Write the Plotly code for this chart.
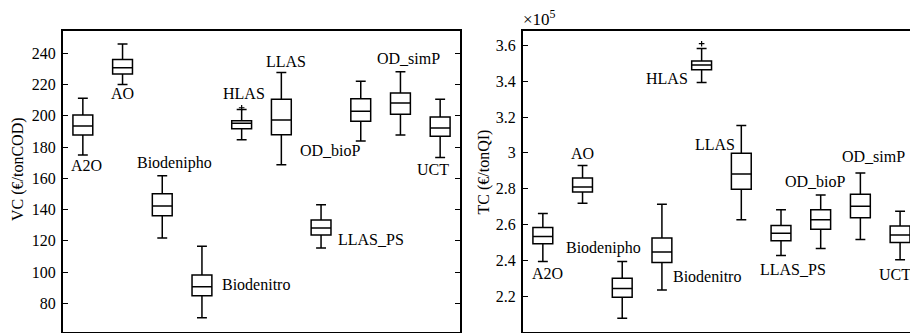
import plotly.graph_objects as go

processes = ["A2O", "AO", "Biodenipho", "Biodenitro", "HLAS", "LLAS",
             "LLAS_PS", "OD_bioP", "OD_simP", "UCT"]
positions = list(range(1, 11))

# Left panel: VC (EUR/tonCOD)
vc_low = [174.9, 220.0, 121.8, 70.8, 184.7, 168.7, 115.4, 183.9, 187.7, 173.4]
vc_q1 = [187.7, 226.8, 136.1, 84.9, 191.8, 187.9, 123.7, 196.5, 201.0, 186.9]
vc_med = [193.5, 230.8, 142.3, 90.7, 195.2, 197.3, 128.2, 202.9, 208.2, 192.2]
vc_q3 = [200.5, 236.0, 150.2, 98.1, 196.9, 210.6, 133.3, 211.0, 214.6, 199.3]
vc_high = [211.2, 246.0, 161.7, 116.5, 204.0, 227.8, 143.1, 222.1, 228.3, 210.6]
vc_out_x = ["HLAS"]
vc_out_y = [205.2]

# Right panel: TC (EUR/tonQI), in units of 1e5
tc_low = [2.393, 2.719, 2.077, 2.234, 3.392, 2.626, 2.427, 2.466, 2.516, 2.403]
tc_q1 = [2.492, 2.782, 2.194, 2.388, 3.464, 2.797, 2.509, 2.574, 2.637, 2.499]
tc_med = [2.533, 2.810, 2.243, 2.447, 3.490, 2.882, 2.551, 2.626, 2.702, 2.542]
tc_q3 = [2.583, 2.860, 2.300, 2.524, 3.513, 2.998, 2.594, 2.682, 2.769, 2.591]
tc_high = [2.661, 2.929, 2.393, 2.713, 3.583, 3.152, 2.682, 2.765, 2.888, 2.674]
tc_out_x = ["HLAS"]
tc_out_y = [3.609]

vc_ticks = [80, 100, 120, 140, 160, 180, 200, 220, 240]
tc_ticks = [2.0, 2.2, 2.4, 2.6, 2.8, 3.0, 3.2, 3.4, 3.6]
tc_ticktext = ["2", "2.2", "2.4", "2.6", "2.8", "3", "3.2", "3.4", "3.6"]

# label placement (offsets from the box positions, styling only)
vc_lab_dx = [0.09, 0.01, 0.32, 1.37, 0.05, 0.12, 1.25, -0.76, 0.2, -0.17]
vc_lab_y = [168.5, 214.0, 169.6, 92.2, 214.4, 234.5, 121.0, 177.7, 236.8, 165.5]
tc_lab_dx = [0.12, 0.0, -0.48, 1.13, -0.88, -0.67, 0.3, -0.14, 0.32, -0.12]
tc_lab_y = [2.325, 2.996, 2.470, 2.312, 3.416, 3.048, 2.349, 2.842, 2.981, 2.321]

FONT = "Liberation Serif, Times New Roman, Times, serif"
idx = {p: i for i, p in enumerate(processes)}

fig = go.Figure()
box_style = dict(width=0.5, whiskerwidth=0.5, line=dict(color="black", width=1.5),
                 fillcolor="rgba(0,0,0,0)", boxpoints=False, showlegend=False,
                 hoverinfo="skip")

fig.add_trace(go.Box(x=positions, q1=vc_q1, median=vc_med, q3=vc_q3,
                     lowerfence=vc_low, upperfence=vc_high,
                     xaxis="x", yaxis="y", **box_style))
fig.add_trace(go.Box(x=positions, q1=tc_q1, median=tc_med, q3=tc_q3,
                     lowerfence=tc_low, upperfence=tc_high,
                     xaxis="x2", yaxis="y2", **box_style))

fig.add_trace(go.Scatter(x=[positions[idx[p]] for p in vc_out_x], y=vc_out_y,
                         mode="markers", xaxis="x", yaxis="y", showlegend=False,
                         marker=dict(symbol="cross-thin", size=4,
                                     line=dict(color="black", width=1.2))))
fig.add_trace(go.Scatter(x=[positions[idx[p]] for p in tc_out_x], y=tc_out_y,
                         mode="markers", xaxis="x2", yaxis="y2", showlegend=False,
                         marker=dict(symbol="cross-thin", size=4,
                                     line=dict(color="black", width=1.2))))

annotations = []
for i, p in enumerate(processes):
    annotations.append(dict(x=positions[i] + vc_lab_dx[i], y=vc_lab_y[i], xref="x", yref="y",
                            text=p, showarrow=False, xanchor="center", yanchor="middle",
                            font=dict(family=FONT, size=16, color="black")))
    annotations.append(dict(x=positions[i] + tc_lab_dx[i], y=tc_lab_y[i], xref="x2", yref="y2",
                            text=p, showarrow=False, xanchor="center", yanchor="middle",
                            font=dict(family=FONT, size=16, color="black")))

annotations.append(dict(x=18, y=169, xref="paper", yref="paper", text="VC (€/tonCOD)",
                        showarrow=False, textangle=-90, xanchor="center", yanchor="middle",
                        font=dict(family=FONT, size=16, color="black")))
annotations.append(dict(x=483.5, y=172, xref="paper", yref="paper", text="TC (€/tonQI)",
                        showarrow=False, textangle=-90, xanchor="center", yanchor="middle",
                        font=dict(family=FONT, size=16, color="black")))
annotations.append(dict(x=521, y=18, xref="paper", yref="paper", text="×10<sup>5</sup>",
                        showarrow=False, xanchor="left", yanchor="middle",
                        font=dict(family=FONT, size=17, color="black")))

W, H = 910, 333
MT, MB = 31, 1
ph = H - MT - MB
# convert pixel annotation positions to paper coords
for a in annotations:
    if a["xref"] == "paper":
        a["x"] = a["x"] / W
        a["y"] = 1 - (a["y"] - MT) / ph

axis_common = dict(showline=True, linecolor="black", linewidth=2, showgrid=False,
                   zeroline=False)

fig.update_layout(
    width=W, height=H,
    margin=dict(l=0, r=0, t=MT, b=MB),
    paper_bgcolor="white", plot_bgcolor="white",
    font=dict(family=FONT, size=15, color="black"),
    annotations=annotations,
    xaxis=dict(domain=[63 / W, 460 / W], range=[0.5, 10.5], mirror=True,
               showticklabels=False, ticks="", anchor="y", **axis_common),
    yaxis=dict(domain=[0, 1], range=[61.7, 254.3], mirror="allticks",
               ticks="inside", ticklen=5, tickwidth=1, tickcolor="black",
               tickvals=vc_ticks, ticklabelstandoff=2, anchor="x",
               tickfont=dict(family=FONT, size=16, color="black"), **axis_common),
    xaxis2=dict(domain=[523 / W, 1.0], range=[0.5, 10.25], mirror=True,
                showticklabels=False, ticks="", anchor="y2", **axis_common),
    yaxis2=dict(domain=[0, 1], range=[2.0, 3.68], mirror=False,
                ticks="inside", ticklen=5, tickwidth=1, tickcolor="black",
                tickvals=tc_ticks, ticktext=tc_ticktext, ticklabelstandoff=2,
                anchor="x2", tickfont=dict(family=FONT, size=16, color="black"),
                **axis_common),
)

fig.write_html("out.html", config={"displayModeBar": False},
               post_script="document.body.style.margin='0';document.body.style.overflow='hidden';")
